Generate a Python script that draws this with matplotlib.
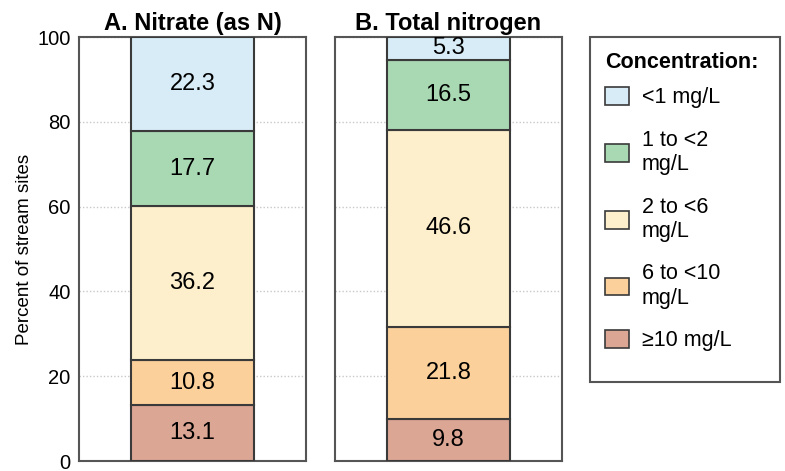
import numpy as np
import matplotlib.pyplot as plt
from matplotlib.patches import Patch, Rectangle

# Concentration classes (bottom to top in each bar)
classes = ["\u226510 mg/L", "6 to <10\nmg/L", "2 to <6\nmg/L", "1 to <2\nmg/L", "<1 mg/L"]
colors = ["#dba694", "#fcd09a", "#fdefcb", "#a9d9b3", "#d7ecf7"]

nitrate = [13.1, 10.8, 36.2, 17.7, 22.3]
total_n = [9.8, 21.8, 46.6, 16.5, 5.3]

panel_titles = ["A. Nitrate (as N)", "B. Total nitrogen"]
panel_values = [nitrate, total_n]

plt.rcParams['font.family'] = ['Liberation Sans', 'DejaVu Sans']

fig = plt.figure(figsize=(7.85, 4.71), dpi=100)
ax_a = fig.add_axes([0.1006, 0.0212, 0.289, 0.900])
ax_b = fig.add_axes([0.4268, 0.0212, 0.289, 0.900])
spine_color = "#555555"

for ax, title, vals in zip([ax_a, ax_b], panel_titles, panel_values):
    bottom = 0
    for v, c in zip(vals, colors):
        ax.bar(0.5, v, width=0.54, bottom=bottom, color=c,
               edgecolor="#3a3a3a", linewidth=1.5, zorder=3)
        ax.text(0.5, bottom + v / 2, f"{v:.1f}", ha="center", va="center",
                fontsize=17, zorder=4)
        bottom += v
    ax.set_xlim(0, 1)
    ax.set_ylim(0, 100)
    ax.set_xticks([])
    ax.set_yticks([0, 20, 40, 60, 80, 100])
    ax.yaxis.grid(True, linestyle=(0, (1, 1.5)), color="#c8c8c8", linewidth=1, zorder=0)
    ax.tick_params(axis="y", length=0, labelsize=14.5, pad=6)
    for s in ax.spines.values():
        s.set_color(spine_color)
        s.set_linewidth(1.5)
    ax.set_title(title, fontsize=17, fontweight="bold", pad=5)

ax_b.tick_params(axis="y", labelleft=False)
ax_a.set_ylabel("Percent of stream sites", fontsize=13.5, labelpad=3)

# legend box drawn separately so its padding can match the original
fig.patches.append(Rectangle((0.7516, 0.189), 0.242, 0.7324, transform=fig.transFigure,
                             facecolor="white", edgecolor=spine_color, linewidth=1.5,
                             zorder=0))
handles = [Patch(facecolor=c, edgecolor="#3a3a3a", linewidth=1.2)
           for c in colors[::-1]]
leg = fig.legend(handles, classes[::-1], title="Concentration:",
                 loc="upper left", bbox_to_anchor=(0.763, 0.903),
                 borderaxespad=0, frameon=False,
                 fontsize=15.5, title_fontproperties={"weight": "bold", "size": 15.5},
                 handlelength=1.1, handleheight=0.9, handletextpad=0.6,
                 labelspacing=1.0, borderpad=0.3, alignment="left")
leg._legend_box.sep = 10

fig.savefig("out.png", dpi=100)
